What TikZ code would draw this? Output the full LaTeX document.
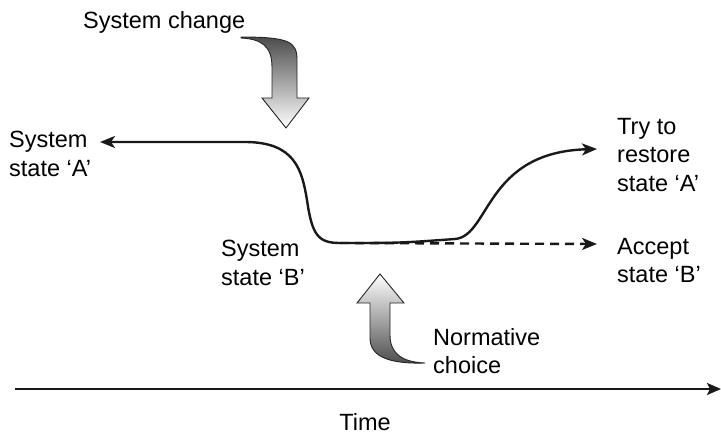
\documentclass[tikz,border=0pt]{standalone}
\usepackage{fontspec}
\setmainfont{Liberation Sans}
\usepackage{tikz}
\usetikzlibrary{arrows.meta}

\tikzset{
  label text/.style={inner sep=0pt, anchor=north west, align=left,
    font=\fontsize{23.5}{28.5}\selectfont},
  curve line/.style={line width=2.4pt, draw=black!90},
  tip/.style={-{Stealth[length=15pt,width=12pt,inset=4pt]}},
  big arrow/.style={draw=black!85, line width=0.9pt, line join=miter}
}

\begin{document}
\begin{tikzpicture}[x=1pt,y=-1pt]
  \useasboundingbox (0,0) rectangle (721,436);

  % labels
  \node[label text] (change) at (83,11) {System change};
  \node[label text] (sysA) at (9,131) {System\\state ‘A’};
  \node[label text] (sysB) at (221,240) {System\\state ‘B’};
  \node[label text] (tryA) at (617,118) {Try to\\restore\\state ‘A’};
  \node[label text] (accB) at (617,238) {Accept\\state ‘B’};
  \node[label text] (norm) at (433,328) {Normative\\choice};
  \node[label text, anchor=north] (time) at (365,413) {Time};

  % ends of the curves
  \coordinate (tipA) at (100,142);
  \coordinate (tipR) at (597,149);
  \coordinate (low) at (340,243);
  \coordinate (tipB) at (597,244);

  % system path
  \draw[curve line, tip] (low) .. controls (318,243) and (312,235) .. (307,200)
        .. controls (302,170) and (295,142) .. (245,142) -- (tipA);
  \draw[curve line, tip] (low) .. controls (400,243) .. (455,239)
        .. controls (490,236) and (485,152) .. (tipR);
  \draw[curve line, tip, dash pattern=on 9pt off 6pt] (low) -- (tipB);

  % system change arrow
  \shadedraw[big arrow, top color=black!70, bottom color=white]
    (241,37) .. controls (290,37) and (297,42) .. (297,60) -- (297,98)
    -- (309,98) -- (286,128) -- (262,98) -- (272,98) -- (272,67)
    .. controls (272,45) and (260,39) .. (241,38) -- cycle;

  % normative choice arrow
  \shadedraw[big arrow, top color=white, bottom color=black!70]
    (380,274) -- (404,303) -- (390,303) -- (390,335)
    .. controls (390,352) and (400,362) .. (425,363)
    .. controls (392,364) and (370,358) .. (370,338) -- (370,303)
    -- (357,303) -- cycle;

  % time axis
  \coordinate (t0) at (15,389);
  \coordinate (t1) at (721,389);
  \draw[curve line, -{Stealth[length=14pt,width=12pt,inset=3pt]}] (t0) -- (t1);
\end{tikzpicture}
\end{document}
